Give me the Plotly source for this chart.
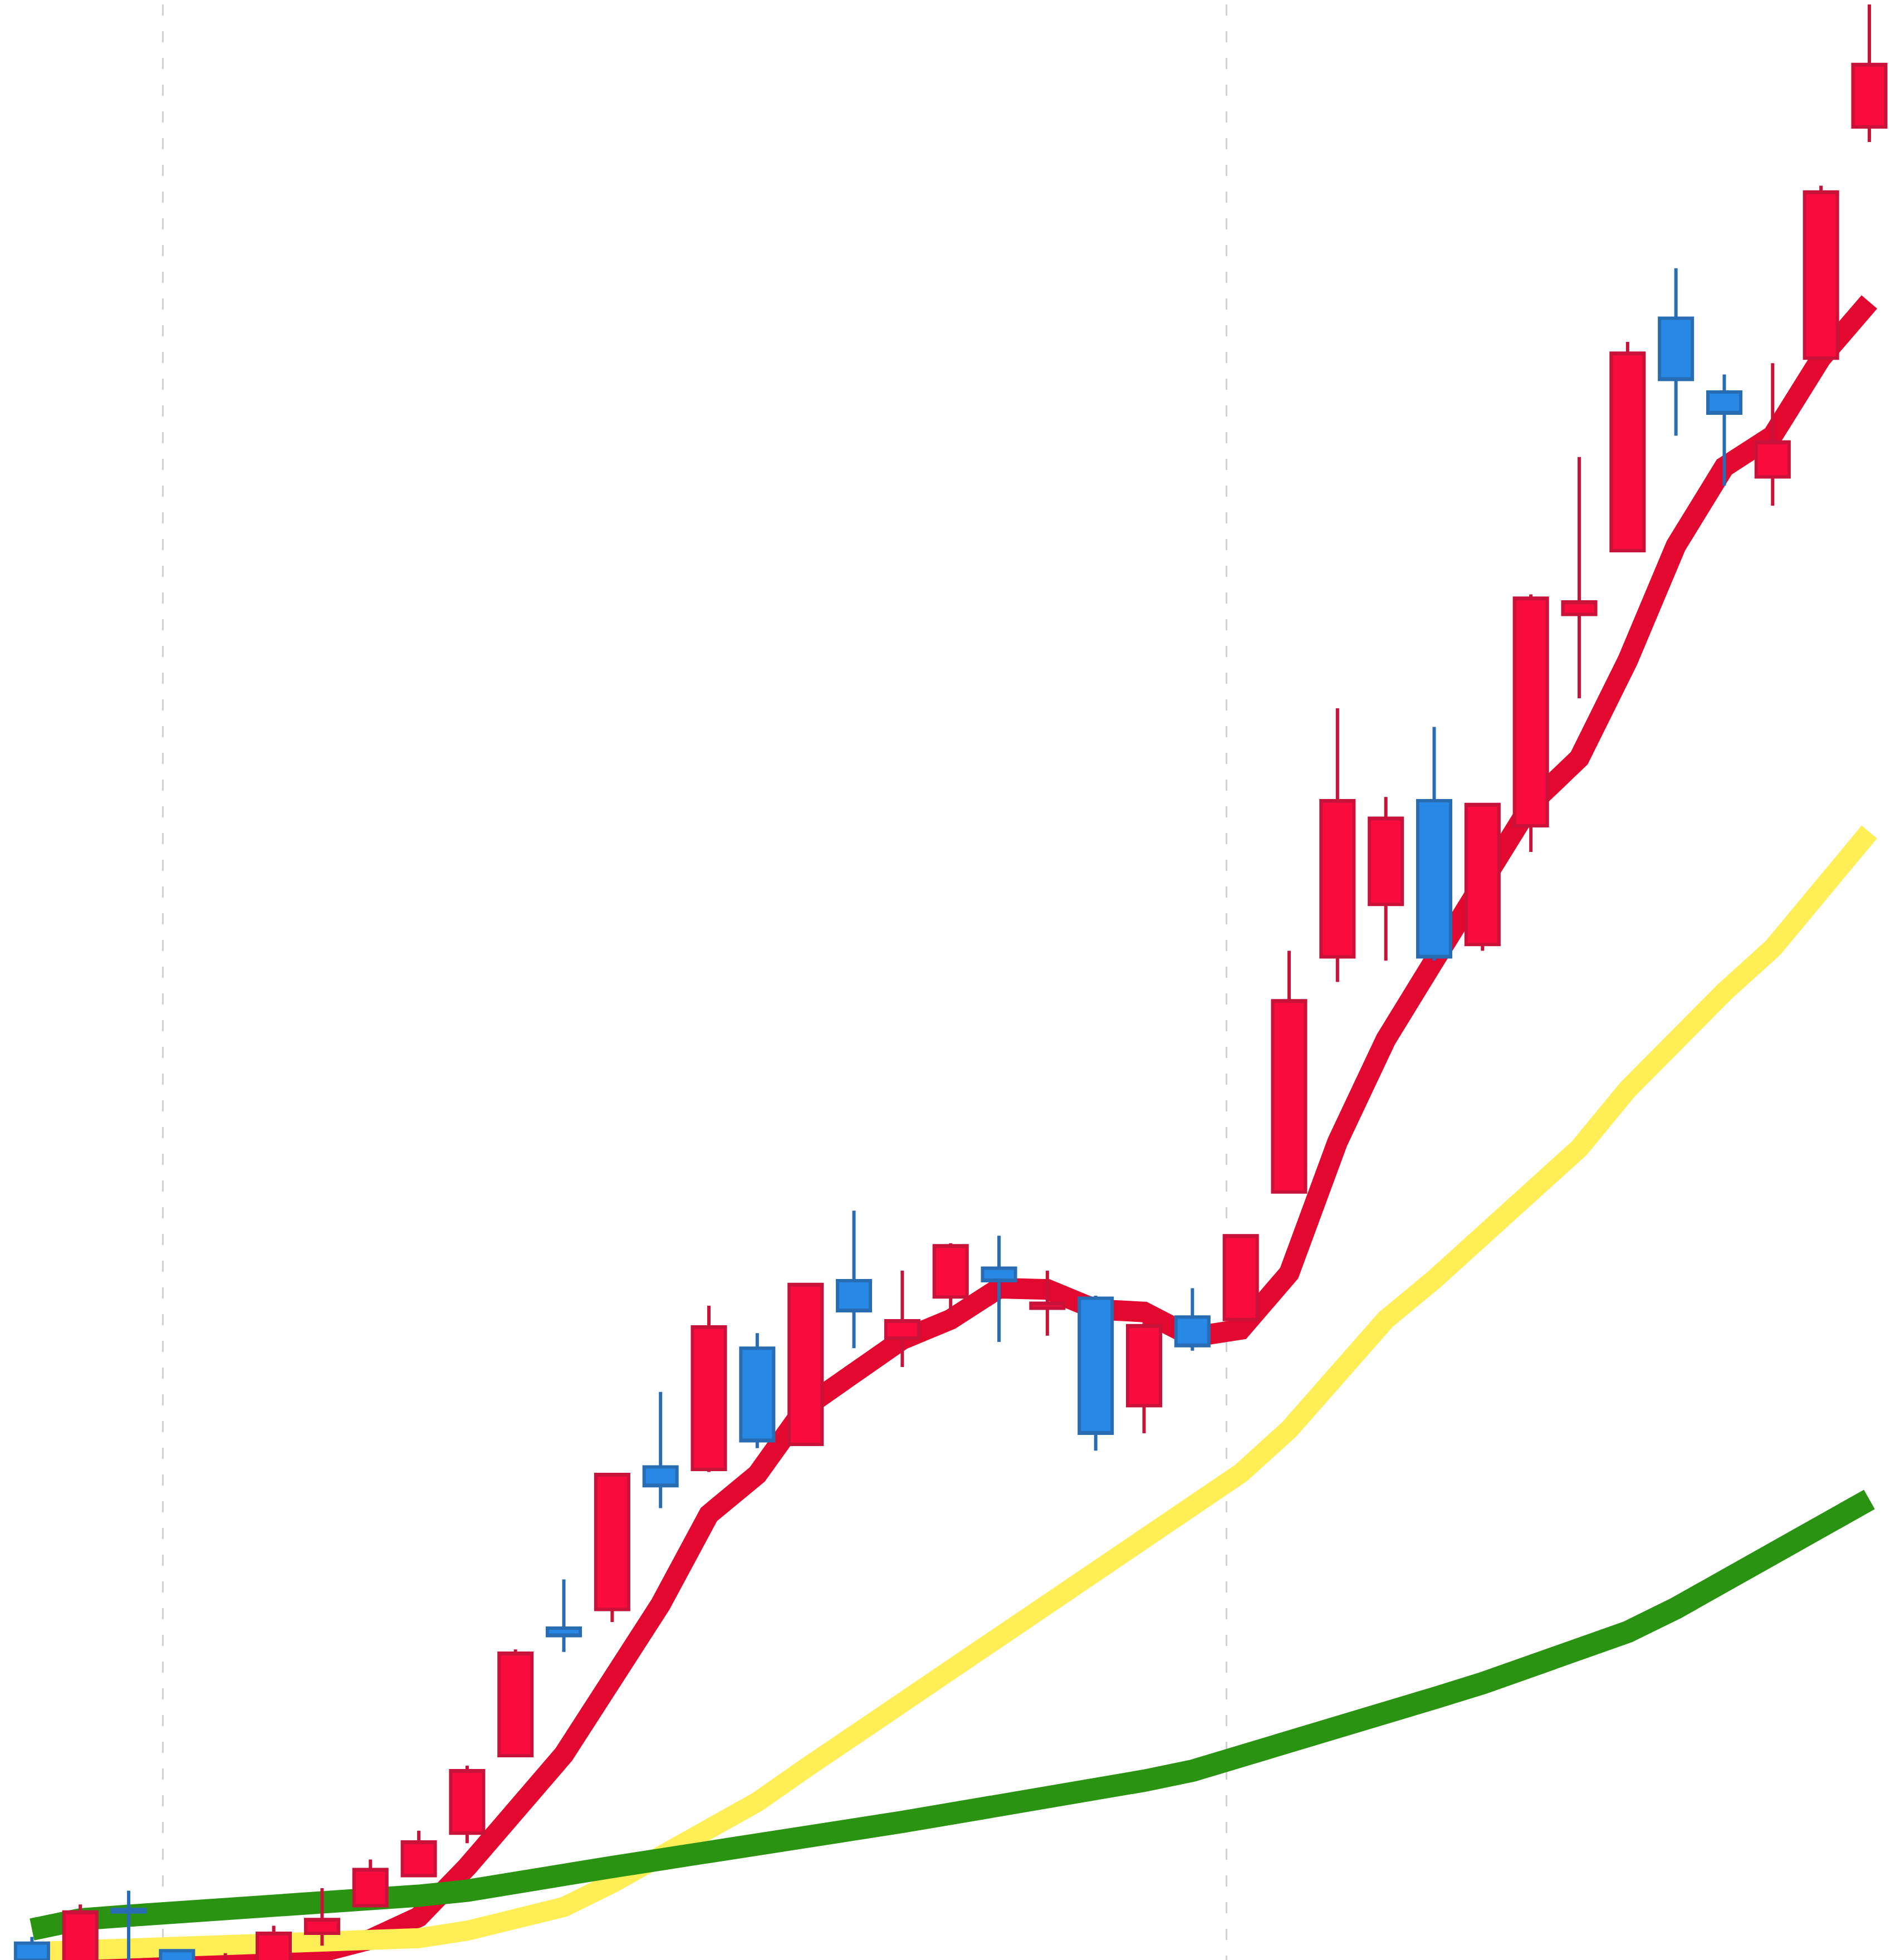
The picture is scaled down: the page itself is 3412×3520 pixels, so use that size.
import plotly.graph_objects as go

# --- data (candle index, OHLC, moving averages) ---
idx = list(range(39))

open_ = [21.7, 18.8, 24.4, 21.1, 18.3, 18.8, 22.5, 24.7, 27.1, 30.5,
         36.7, 46.9, 48.4, 59.8, 59.6, 69.3, 61.6, 74.7, 70.1, 73.4,
         75.7, 72.5, 73.3, 64.7, 71.8, 71.6, 81.8, 100.6, 104.8, 113.1,
         101.6, 111.1, 128.0, 133.1, 151.7, 145.8, 139.0, 148.5, 167.0]
high = [22.2, 24.8, 25.9, 21.2, 20.9, 23.1, 26.1, 28.4, 30.7, 35.9,
        45.2, 50.8, 59.3, 65.8, 72.7, 70.5, 74.4, 80.3, 75.5, 77.7,
        78.3, 75.5, 73.5, 71.3, 74.1, 78.3, 101.1, 120.5, 113.4, 119.0,
        112.8, 129.6, 140.6, 149.8, 155.7, 147.2, 148.1, 162.3, 177.8]
low = [19.3, 17.8, 18.8, 17.8, 17.8, 18.3, 21.5, 24.7, 27.1, 29.7,
       36.7, 45.0, 47.4, 56.5, 59.4, 61.3, 61.6, 69.3, 67.8, 72.3,
       69.8, 70.3, 61.1, 62.5, 69.1, 71.6, 81.8, 98.6, 100.3, 100.3,
       101.1, 109.0, 121.3, 133.1, 142.3, 138.3, 136.7, 148.5, 165.8]
close = [20.3, 24.2, 24.2, 18.3, 20.2, 22.5, 23.6, 27.6, 29.8, 35.5,
         44.9, 46.3, 59.2, 58.3, 71.0, 61.9, 74.4, 72.3, 71.5, 77.5,
         74.7, 72.9, 62.5, 71.1, 69.5, 78.3, 97.1, 113.1, 111.7, 100.6,
         112.8, 129.3, 129.0, 148.9, 146.8, 144.1, 141.8, 161.8, 172.0]

ma_short = [20.0, 20.2, 20.5, 20.7, 20.6, 20.7, 21.0, 22.0, 23.8, 27.8,
            32.1, 36.8, 42.8, 48.8, 56.0, 59.2, 64.6, 67.5, 70.0, 71.6,
            74.1, 74.0, 72.4, 72.2, 70.2, 70.8, 75.3, 85.8, 94.0, 100.3,
            106.8, 112.8, 116.5, 124.3, 133.5, 139.8, 142.3, 148.5, 153.0]
ma_mid = [21.0, 21.1, 21.2, 21.2, 21.3, 21.4, 21.5, 21.8, 22.1, 22.7,
          23.5, 24.6, 26.5, 28.6, 30.6, 33.0, 35.7, 38.3, 40.9, 43.6,
          46.5, 49.1, 51.4, 54.0, 56.5, 59.3, 62.8, 67.0, 71.6, 74.8,
          78.3, 81.8, 85.3, 90.0, 94.0, 97.8, 101.3, 105.8, 110.6]
ma_long = [22.8, 23.6, 23.9, 24.1, 24.3, 24.5, 24.7, 25.1, 25.5, 25.9,
           26.4, 27.1, 27.8, 28.4, 29.1, 29.7, 30.2, 30.8, 31.4, 32.0,
           32.7, 33.4, 34.0, 34.7, 35.5, 36.6, 37.6, 39.0, 40.2, 41.3,
           42.5, 43.8, 45.0, 46.6, 48.5, 50.6, 52.8, 55.3, 57.2]

grid_positions = [2.71, 24.71]

# --- styling ---
RED = "#F90B3D"
RED_LINE = "#C8123A"
BLUE = "#2888E6"
BLUE_LINE = "#286DB4"
MA_RED = "#E2082F"
MA_YELLOW = "#FFEE55"
MA_GREEN = "#2A9412"

X_RANGE = [-0.569, 38.726]
Y_RANGE = [20.0, 176.8]

fig = go.Figure()

# drawing order: short MA at the bottom, then mid, then long
fig.add_trace(go.Scatter(x=idx, y=ma_short, mode="lines",
                         line=dict(color=MA_RED, width=37),
                         xaxis="x", yaxis="y", showlegend=False))
fig.add_trace(go.Scatter(x=idx, y=ma_mid, mode="lines",
                         line=dict(color=MA_YELLOW, width=36),
                         xaxis="x", yaxis="y", showlegend=False))
fig.add_trace(go.Scatter(x=idx, y=ma_long, mode="lines",
                         line=dict(color=MA_GREEN, width=40),
                         xaxis="x", yaxis="y", showlegend=False))

fig.add_trace(go.Candlestick(
    x=idx, open=open_, high=high, low=low, close=close,
    increasing=dict(fillcolor=RED, line=dict(color=RED_LINE, width=6)),
    decreasing=dict(fillcolor=BLUE, line=dict(color=BLUE_LINE, width=6)),
    whiskerwidth=0,
    xaxis="x2", yaxis="y2", showlegend=False))

fig.update_layout(
    width=3412, height=3520,
    margin=dict(l=0, r=0, t=0, b=0),
    paper_bgcolor="white", plot_bgcolor="white",
    showlegend=False,
    boxgap=0.32, boxgroupgap=0,
    xaxis=dict(range=X_RANGE, tickvals=grid_positions, showgrid=True,
               gridcolor="#D2D2D2", gridwidth=3, griddash="20px,28px",
               showticklabels=False, ticks="", zeroline=False, showline=False,
               rangeslider=dict(visible=False)),
    yaxis=dict(range=Y_RANGE, showgrid=False, showticklabels=False,
               zeroline=False, showline=False, ticks=""),
    xaxis2=dict(range=X_RANGE, overlaying="x", showgrid=False,
                showticklabels=False, zeroline=False, showline=False,
                ticks="", rangeslider=dict(visible=False)),
    yaxis2=dict(range=Y_RANGE, overlaying="y", showgrid=False,
                showticklabels=False, zeroline=False, showline=False,
                ticks=""),
)

fig.write_html("out.html")
